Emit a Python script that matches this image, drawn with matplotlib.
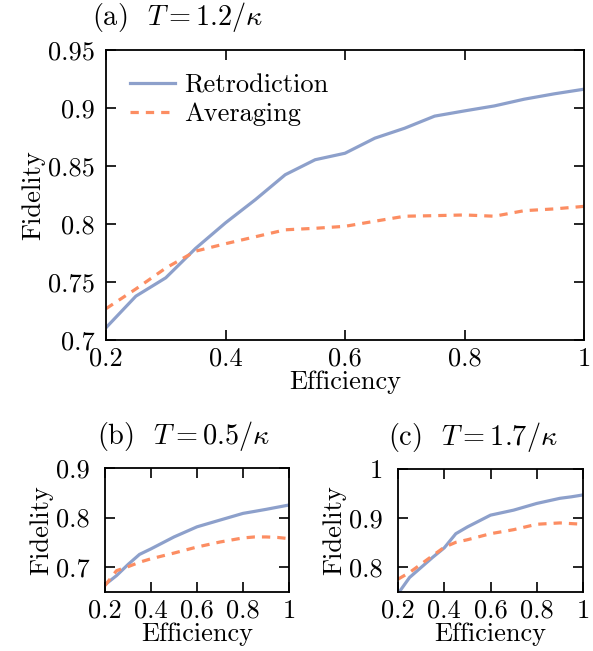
import matplotlib
matplotlib.use("Agg")
import matplotlib.pyplot as plt

# 字体: 用 matplotlib 自带的 Computer Modern
plt.rcParams["font.family"] = "serif"
plt.rcParams["font.serif"] = ["cmr10", "DejaVu Serif"]
plt.rcParams["mathtext.fontset"] = "cm"
plt.rcParams["axes.formatter.use_mathtext"] = True
plt.rcParams["font.size"] = 19

BLUE = "#8da0cb"
ORANGE = "#fc8d62"
DASH = (0, (2.6, 2.2))

# (a) T = 1.2/kappa
eff_a = [0.2, 0.25, 0.3, 0.35, 0.4, 0.45, 0.5, 0.55, 0.6, 0.65, 0.7, 0.75, 0.8, 0.85, 0.9, 0.95, 1.0]
retro_a = [0.7106, 0.7378, 0.7536, 0.779, 0.801, 0.821, 0.8425, 0.8554, 0.861, 0.874,
           0.8826, 0.893, 0.8975, 0.9018, 0.9076, 0.9122, 0.9162]
avg_a = [0.727, 0.744, 0.762, 0.7766, 0.783, 0.789, 0.795, 0.7963, 0.798, 0.8024,
         0.8067, 0.8072, 0.8078, 0.8067, 0.8115, 0.813, 0.8152]

# (b) T = 0.5/kappa
eff_b = [0.2, 0.25, 0.3, 0.35, 0.4, 0.5, 0.6, 0.7, 0.8, 0.85, 0.9, 0.95, 1.0]
retro_b = [0.6647, 0.683, 0.7054, 0.7258, 0.737, 0.761, 0.7814, 0.795, 0.8085, 0.8125,
           0.8166, 0.821, 0.8254]
avg_b = [0.663, 0.693, 0.701, 0.710, 0.717, 0.7285, 0.7407, 0.7508, 0.759, 0.761,
         0.761, 0.760, 0.7576]

# (c) T = 1.7/kappa
eff_c = [0.2, 0.25, 0.3, 0.35, 0.4, 0.45, 0.5, 0.6, 0.7, 0.8, 0.9, 0.95, 1.0]
retro_c = [0.7466, 0.7795, 0.80, 0.8205, 0.8397, 0.8685, 0.8822, 0.9062, 0.9164, 0.930,
           0.9404, 0.9435, 0.9473]
avg_c = [0.776, 0.7897, 0.8068, 0.824, 0.841, 0.851, 0.8562, 0.8685, 0.8767, 0.8877,
         0.8904, 0.889, 0.8877]

x_ticks = [0.2, 0.4, 0.6, 0.8, 1.0]
x_labels = ["0.2", "0.4", "0.6", "0.8", "1"]


def style(ax, yticks, ylabels, ylim, ypad):
    ax.set_xlim(0.2, 1.0)
    ax.set_ylim(*ylim)
    ax.set_xticks(x_ticks)
    ax.set_xticklabels(x_labels)
    ax.set_yticks(yticks)
    ax.set_yticklabels(ylabels)
    ax.tick_params(direction="in", top=True, right=True, length=7.5, width=1.2)
    ax.tick_params(axis="x", pad=5)
    ax.tick_params(axis="y", pad=ypad)
    for s in ax.spines.values():
        s.set_linewidth(1.3)
    ax.set_xlabel("Efficiency", labelpad=0)
    ax.set_ylabel("Fidelity", labelpad=2)


fig = plt.figure(figsize=(5.93, 6.51), dpi=100)

# 大图 (a)
ax_a = fig.add_axes([106 / 593, 1 - 340 / 651, 478 / 593, 290 / 651])
ax_a.plot(eff_a, retro_a, color=BLUE, lw=2.3, label="Retrodiction")
ax_a.plot(eff_a, avg_a, color=ORANGE, lw=2.3, ls=DASH, label="Averaging")
style(ax_a, [0.7, 0.75, 0.8, 0.85, 0.9, 0.95],
      ["0.7", "0.75", "0.8", "0.85", "0.9", "0.95"], (0.7, 0.95), 8)
ax_a.legend(loc="upper left", frameon=False, handlelength=1.7, handletextpad=0.35,
            borderaxespad=0.5, labelspacing=0.2)
ax_a.set_title(r"(a)  $T=1.2/\kappa$", loc="left", x=-0.03, pad=18, fontsize=20.4)

# 小图 (b)
ax_b = fig.add_axes([105 / 593, 1 - 592 / 651, 184 / 593, 124 / 651])
ax_b.plot(eff_b, retro_b, color=BLUE, lw=2.3)
ax_b.plot(eff_b, avg_b, color=ORANGE, lw=2.3, ls=DASH)
style(ax_b, [0.7, 0.8, 0.9], ["0.7", "0.8", "0.9"], (0.65, 0.9), 11)
ax_b.set_title(r"(b)  $T=0.5/\kappa$", loc="left", x=-0.045, pad=17, fontsize=20.4)

# 小图 (c)
ax_c = fig.add_axes([398 / 593, 1 - 592 / 651, 185 / 593, 123 / 651])
ax_c.plot(eff_c, retro_c, color=BLUE, lw=2.3)
ax_c.plot(eff_c, avg_c, color=ORANGE, lw=2.3, ls=DASH)
style(ax_c, [0.8, 0.9, 1.0], ["0.8", "0.9", "1"], (0.75, 1.0), 11)
ax_c.set_title(r"(c)  $T=1.7/\kappa$", loc="left", x=-0.055, pad=17, fontsize=20.4)

plt.savefig("out.png", dpi=100)
plt.close()
